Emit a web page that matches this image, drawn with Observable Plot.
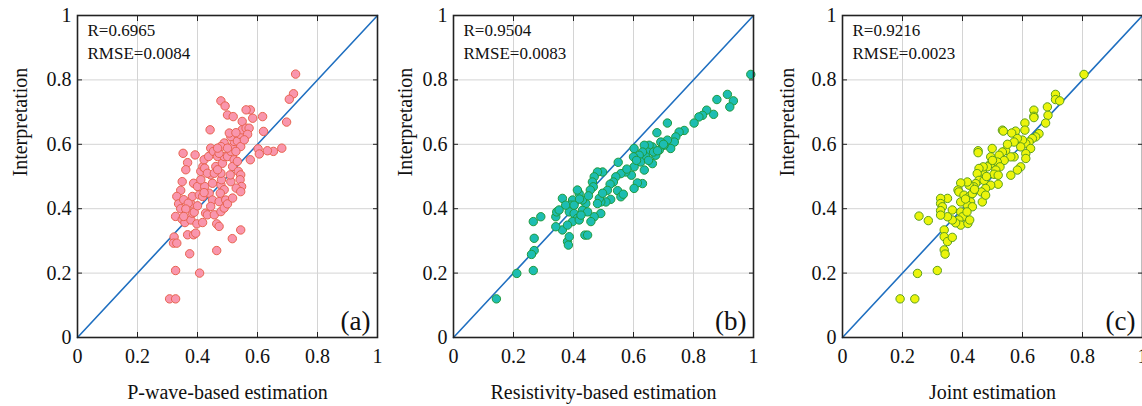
<!DOCTYPE html>
<html><head><meta charset="utf-8">
<script src="https://cdn.jsdelivr.net/npm/d3@7"></script>
<script src="https://cdn.jsdelivr.net/npm/@observablehq/plot@0.6"></script>
<style>
body{margin:0;background:#fff}
#wrap{position:relative;width:1142px;height:406px;overflow:hidden;background:#fff}
#wrap svg{position:absolute;top:0}
</style>
</head><body><div id="wrap"></div>
<script>
const tickValues = [0, 0.2, 0.4, 0.6, 0.8, 1];
const panelTags = ["(a)", "(b)", "(c)"];
const xLabels = ["P-wave-based estimation", "Resistivity-based estimation", "Joint estimation"];
const yLabel = "Interpretation";
const rTexts = ["R=0.6965", "R=0.9504", "R=0.9216"];
const rmseTexts = ["RMSE=0.0084", "RMSE=0.0083", "RMSE=0.0023"];
const diagonal = [0, 1];

const pwavePoints = [[0.727,0.818],[0.72,0.757],[0.706,0.74],[0.697,0.669],[0.681,0.588],[0.653,0.578],[0.633,0.58],[0.602,0.586],[0.606,0.57],[0.62,0.64],[0.617,0.686],[0.584,0.681],[0.576,0.707],[0.562,0.707],[0.549,0.671],[0.576,0.552],[0.544,0.334],[0.516,0.307],[0.478,0.735],[0.492,0.719],[0.5,0.691],[0.519,0.686],[0.442,0.645],[0.464,0.27],[0.407,0.2],[0.374,0.26],[0.327,0.208],[0.307,0.12],[0.327,0.12],[0.322,0.312],[0.32,0.293],[0.331,0.293],[0.327,0.376],[0.367,0.319],[0.387,0.319],[0.394,0.324],[0.352,0.572],[0.392,0.567],[0.367,0.543],[0.361,0.521],[0.349,0.484],[0.344,0.457],[0.331,0.438],[0.337,0.415],[0.354,0.428],[0.344,0.4],[0.349,0.367],[0.358,0.357],[0.378,0.365],[0.383,0.386],[0.389,0.389],[0.378,0.415],[0.383,0.438],[0.387,0.479],[0.4,0.469],[0.406,0.443],[0.398,0.353],[0.417,0.357],[0.427,0.386],[0.433,0.381],[0.424,0.469],[0.411,0.516],[0.418,0.531],[0.422,0.552],[0.437,0.562],[0.444,0.588],[0.453,0.578],[0.467,0.562],[0.461,0.531],[0.444,0.505],[0.45,0.479],[0.439,0.448],[0.45,0.427],[0.444,0.407],[0.456,0.381],[0.464,0.353],[0.472,0.345],[0.472,0.422],[0.478,0.391],[0.489,0.402],[0.494,0.427],[0.5,0.415],[0.478,0.474],[0.48,0.49],[0.489,0.459],[0.511,0.484],[0.478,0.51],[0.483,0.541],[0.489,0.562],[0.472,0.572],[0.5,0.562],[0.511,0.578],[0.517,0.593],[0.522,0.609],[0.511,0.624],[0.506,0.635],[0.489,0.604],[0.478,0.593],[0.467,0.588],[0.522,0.552],[0.517,0.531],[0.533,0.547],[0.536,0.516],[0.544,0.505],[0.542,0.49],[0.547,0.469],[0.529,0.464],[0.517,0.433],[0.544,0.453],[0.533,0.61],[0.542,0.631],[0.549,0.645],[0.562,0.65],[0.572,0.65],[0.567,0.631],[0.528,0.636],[0.544,0.593],[0.556,0.614],[0.424,0.526],[0.433,0.51],[0.411,0.49],[0.417,0.438],[0.4,0.409],[0.369,0.417],[0.361,0.399],[0.354,0.376],[0.422,0.45],[0.456,0.51],[0.467,0.521],[0.476,0.448],[0.509,0.505],[0.528,0.578],[0.5,0.588]];

const resistivityPoints = [[0.991,0.817],[0.913,0.755],[0.933,0.735],[0.921,0.716],[0.878,0.739],[0.867,0.693],[0.844,0.706],[0.83,0.69],[0.818,0.685],[0.802,0.666],[0.713,0.666],[0.678,0.636],[0.769,0.643],[0.752,0.638],[0.741,0.623],[0.736,0.607],[0.724,0.587],[0.713,0.613],[0.702,0.597],[0.691,0.607],[0.686,0.582],[0.674,0.566],[0.663,0.592],[0.652,0.597],[0.647,0.576],[0.641,0.561],[0.663,0.54],[0.667,0.576],[0.636,0.597],[0.63,0.576],[0.619,0.566],[0.624,0.545],[0.636,0.52],[0.63,0.478],[0.613,0.48],[0.602,0.587],[0.6,0.561],[0.602,0.53],[0.593,0.504],[0.602,0.463],[0.574,0.514],[0.558,0.509],[0.549,0.544],[0.578,0.523],[0.541,0.499],[0.533,0.483],[0.522,0.476],[0.547,0.456],[0.558,0.437],[0.566,0.445],[0.513,0.457],[0.524,0.429],[0.508,0.421],[0.491,0.421],[0.497,0.514],[0.48,0.514],[0.469,0.499],[0.463,0.483],[0.466,0.468],[0.456,0.458],[0.486,0.432],[0.48,0.416],[0.491,0.385],[0.469,0.375],[0.458,0.36],[0.441,0.416],[0.43,0.427],[0.419,0.447],[0.413,0.458],[0.397,0.427],[0.391,0.411],[0.386,0.39],[0.402,0.385],[0.413,0.37],[0.397,0.36],[0.419,0.365],[0.43,0.395],[0.438,0.318],[0.447,0.318],[0.38,0.298],[0.383,0.287],[0.386,0.313],[0.363,0.334],[0.38,0.349],[0.341,0.344],[0.363,0.432],[0.341,0.375],[0.344,0.39],[0.352,0.396],[0.374,0.411],[0.291,0.375],[0.266,0.36],[0.269,0.308],[0.269,0.27],[0.26,0.258],[0.266,0.208],[0.211,0.199],[0.143,0.12],[0.402,0.411],[0.447,0.39],[0.497,0.448],[0.42,0.43],[0.45,0.44],[0.425,0.38],[0.61,0.55],[0.65,0.55],[0.68,0.58],[0.7,0.6]];

const jointPoints = [[0.805,0.817],[0.71,0.755],[0.71,0.739],[0.724,0.735],[0.683,0.716],[0.685,0.69],[0.677,0.666],[0.638,0.706],[0.638,0.687],[0.638,0.683],[0.608,0.666],[0.608,0.644],[0.577,0.641],[0.533,0.644],[0.536,0.641],[0.564,0.635],[0.655,0.633],[0.644,0.623],[0.633,0.618],[0.622,0.607],[0.611,0.602],[0.6,0.613],[0.583,0.618],[0.572,0.607],[0.627,0.587],[0.611,0.571],[0.611,0.556],[0.594,0.592],[0.594,0.53],[0.583,0.52],[0.561,0.504],[0.572,0.561],[0.561,0.561],[0.544,0.581],[0.533,0.576],[0.522,0.566],[0.539,0.55],[0.516,0.545],[0.525,0.53],[0.511,0.52],[0.505,0.507],[0.519,0.504],[0.519,0.476],[0.499,0.587],[0.494,0.561],[0.494,0.54],[0.483,0.53],[0.466,0.514],[0.469,0.53],[0.455,0.525],[0.449,0.509],[0.455,0.488],[0.472,0.488],[0.494,0.473],[0.477,0.463],[0.463,0.452],[0.466,0.421],[0.477,0.442],[0.452,0.58],[0.452,0.574],[0.444,0.478],[0.438,0.468],[0.422,0.473],[0.416,0.483],[0.394,0.48],[0.385,0.458],[0.388,0.452],[0.405,0.442],[0.422,0.437],[0.433,0.447],[0.427,0.421],[0.416,0.411],[0.433,0.406],[0.394,0.421],[0.41,0.43],[0.394,0.39],[0.4,0.375],[0.388,0.365],[0.394,0.349],[0.377,0.356],[0.366,0.365],[0.366,0.396],[0.35,0.375],[0.35,0.432],[0.327,0.432],[0.327,0.416],[0.333,0.406],[0.327,0.394],[0.327,0.38],[0.339,0.334],[0.339,0.313],[0.35,0.298],[0.366,0.311],[0.339,0.272],[0.342,0.259],[0.418,0.354],[0.424,0.365],[0.415,0.39],[0.255,0.377],[0.286,0.363],[0.316,0.208],[0.25,0.199],[0.192,0.12],[0.241,0.12],[0.48,0.5],[0.5,0.55],[0.55,0.6],[0.44,0.46]];

const panels = [
  {points: pwavePoints, fill: "#f996ad", stroke: "#e8634f", left: 0, ml: 77, width: 387, ylabDx: -57},
  {points: resistivityPoints, fill: "#1dbdb2", stroke: "#1f9a3c", left: 380, ml: 73, width: 383, ylabDx: -48},
  {points: jointPoints, fill: "#ebf40c", stroke: "#5c9f1b", left: 760, ml: 82, width: 382, ylabDx: -55}
];

const serif = "'Liberation Serif', 'Times New Roman', serif";
const wrap = document.getElementById("wrap");

panels.forEach((p, i) => {
  const chart = Plot.plot({
    width: p.width,
    height: 406,
    marginLeft: p.ml,
    marginRight: p.width - p.ml - 300,
    marginTop: 15,
    marginBottom: 69,
    style: {fontFamily: serif, fontSize: "20px", color: "#111", background: "transparent"},
    x: {domain: [0, 1], label: null},
    y: {domain: [0, 1], label: null},
    marks: [
      Plot.gridX(tickValues, {stroke: "#d4d4d4", strokeOpacity: 1}),
      Plot.gridY(tickValues, {stroke: "#d4d4d4", strokeOpacity: 1}),
      Plot.line(diagonal, {x: d => d, y: d => d, stroke: "#1f6fc0", strokeWidth: 1.6}),
      Plot.dot(p.points, {x: d => d[0], y: d => d[1], r: 4.2, fill: p.fill, stroke: p.stroke, strokeWidth: 1, fillOpacity: 1}),
      Plot.frame({stroke: "#222", strokeWidth: 1.6}),
      Plot.axisX(tickValues, {anchor: "bottom", tickSize: 0, tickPadding: 11, tickFormat: d => String(d), label: null, fill: "#111"}),
      Plot.axisY(tickValues, {anchor: "left", tickSize: 0, tickPadding: 6, tickFormat: d => String(d), label: null, fill: "#111"}),
      Plot.axisX(tickValues, {anchor: "bottom", tickSize: 5, dy: -5, fill: "none", label: null, stroke: "#222"}),
      Plot.axisX(tickValues, {anchor: "top", tickSize: 5, dy: 5, fill: "none", label: null, stroke: "#222"}),
      Plot.axisY(tickValues, {anchor: "left", tickSize: 5, dx: 5, fill: "none", label: null, stroke: "#222"}),
      Plot.axisY(tickValues, {anchor: "right", tickSize: 5, dx: -5, fill: "none", label: null, stroke: "#222"}),
      Plot.text([rTexts[i]], {frameAnchor: "top-left", dx: 10, dy: 15, lineAnchor: "middle", textAnchor: "start", fontSize: 17, fill: "#111"}),
      Plot.text([rmseTexts[i]], {frameAnchor: "top-left", dx: 10, dy: 38, lineAnchor: "middle", textAnchor: "start", fontSize: 17, fill: "#111"}),
      Plot.text([panelTags[i]], {frameAnchor: "bottom-right", dx: -7, dy: -16, lineAnchor: "middle", textAnchor: "end", fontSize: 27, fill: "#111"}),
      Plot.text([xLabels[i]], {frameAnchor: "bottom", dy: 55, lineAnchor: "middle", fontSize: 20, fill: "#111"}),
      Plot.text([yLabel], {frameAnchor: "left", dx: p.ylabDx, rotate: -90, lineAnchor: "middle", fontSize: 20, fill: "#111"})
    ]
  });
  chart.style.left = p.left + "px";
  wrap.appendChild(chart);
});
</script>
</body></html>
